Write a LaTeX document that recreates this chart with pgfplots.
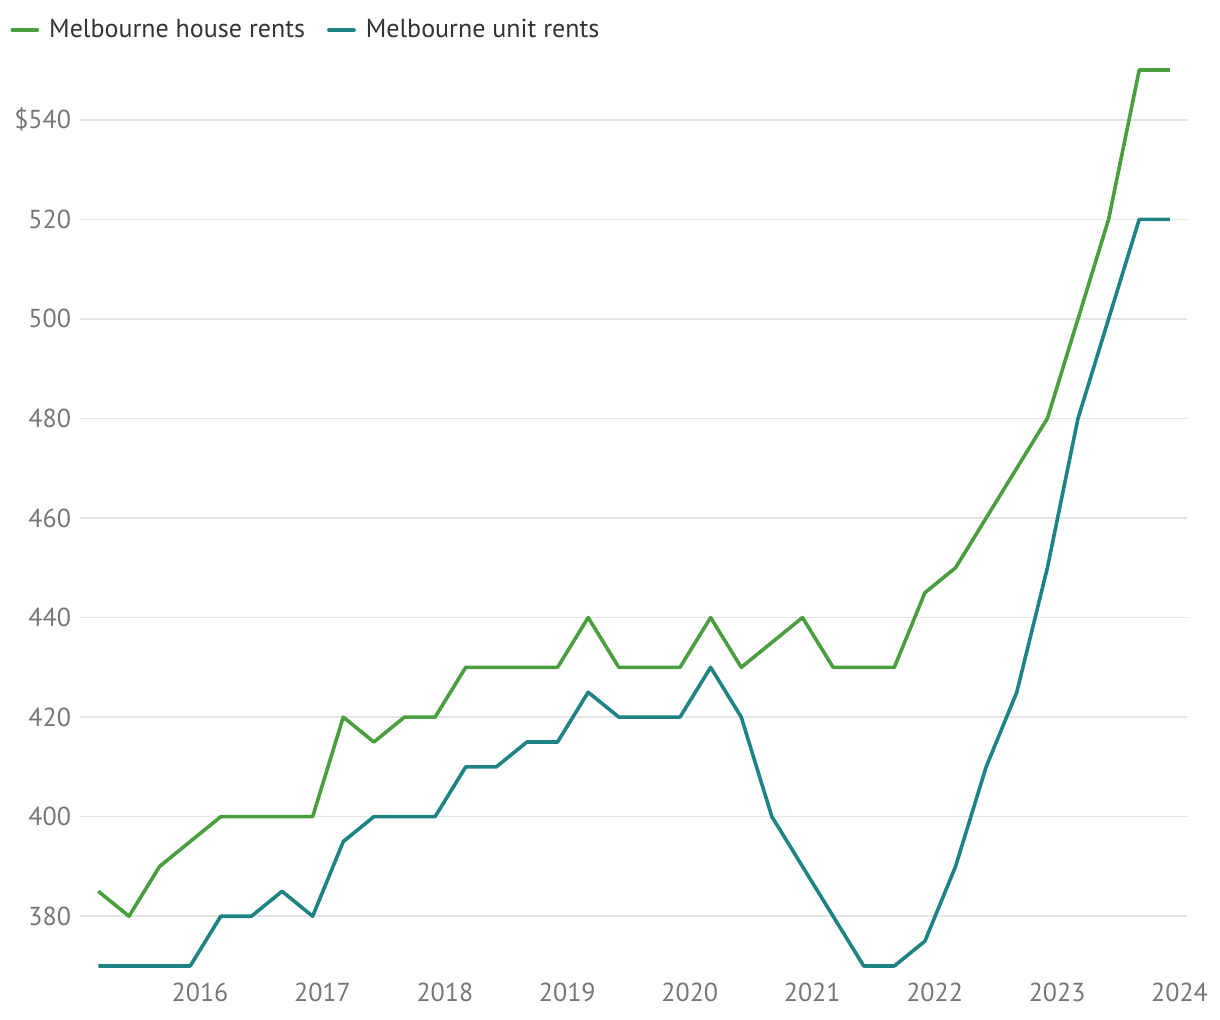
\documentclass[border=0pt]{standalone}
\usepackage{pgfplots}
\pgfplotsset{compat=1.18}
\usepackage{fontspec}
\setmainfont{PT Sans}
\definecolor{house}{HTML}{4A9E3F}
\definecolor{unit}{HTML}{1F8385}
\definecolor{gridc}{HTML}{E4E4E4}
\definecolor{tickc}{HTML}{767676}
\definecolor{txt}{HTML}{333333}
\pgfplotstableread{
x house unit
2015.17 385 370
2015.42 380 370
2015.67 390 370
2015.92 395 370
2016.17 400 380
2016.42 400 380
2016.67 400 385
2016.92 400 380
2017.17 420 395
2017.42 415 400
2017.67 420 400
2017.92 420 400
2018.17 430 410
2018.42 430 410
2018.67 430 415
2018.92 430 415
2019.17 440 425
2019.42 430 420
2019.67 430 420
2019.92 430 420
2020.17 440 430
2020.42 430 420
2020.67 435 400
2020.92 440 390
2021.17 430 380
2021.42 430 370
2021.67 430 370
2021.92 445 375
2022.17 450 390
2022.42 460 410
2022.67 470 425
2022.92 480 450
2023.17 500 480
2023.42 520 500
2023.67 550 520
2023.92 550 520
}\rents
\begin{document}
\begin{tikzpicture}
\useasboundingbox (0,0) rectangle (610pt,510pt);
\begin{axis}[
  at={(40pt,27pt)}, anchor=south west,
  scale only axis, width=553.5pt, height=448pt,
  xmin=2015.02, xmax=2024.06, ymin=370, ymax=550,
  clip=false,
  axis line style={draw=none},
  major tick length=0pt,
  xtick={2016,...,2024},
  ytick={380,400,...,540},
  yticklabels={380,400,420,440,460,480,500,520,\$540},
  xticklabel style={/pgf/number format/1000 sep={}},
  /pgf/number format/assume math mode=true,
  ticklabel style={font=\fontsize{13}{15}\selectfont, text=tickc},
  xticklabel style={yshift=-5pt},
  yticklabel style={xshift=-1pt},
  ymajorgrids, grid style={gridc, line width=0.75pt},
  legend columns=2,
  legend style={draw=none, fill=none, at={(axis description cs:0,1)}, anchor=west,
    xshift=-38pt, yshift=20pt, font=\fontsize{13}{15}\selectfont, text=txt,
    /tikz/every odd column/.append style={column sep=3pt},
    /tikz/every even column/.append style={column sep=9pt}},
  legend image code/.code={\draw[#1, line cap=round, line width=1.9pt] (0pt,0pt) -- (12.5pt,0pt);},
]
\addplot[house, line width=1.8pt, line join=round] table[x=x, y=house] {\rents};
\addlegendentry{Melbourne house rents}
\addplot[unit, line width=1.8pt, line join=round] table[x=x, y=unit] {\rents};
\addlegendentry{Melbourne unit rents}
\end{axis}
\end{tikzpicture}
\end{document}
